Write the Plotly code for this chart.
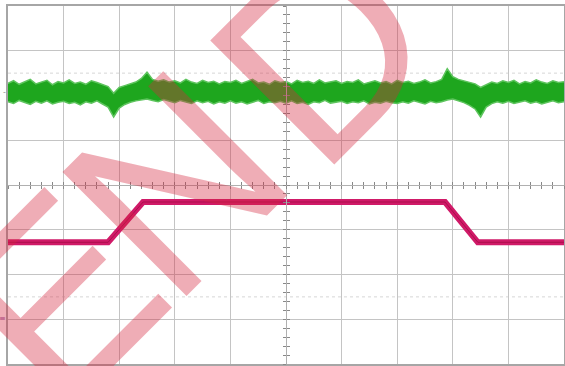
import plotly.graph_objects as go

# --- data (x in divisions, y in divisions) ---
green_x = [round(i * 0.1, 1) for i in range(101)]
green_upper = [
    2.27, 2.33, 2.25, 2.31, 2.36, 2.26, 2.30, 2.34, 2.24, 2.31,
    2.28, 2.35, 2.27, 2.30, 2.25, 2.33, 2.29, 2.24, 2.20, 2.05,
    2.18, 2.22, 2.26, 2.30, 2.38, 2.52, 2.36, 2.32, 2.35, 2.30,
    2.33, 2.28, 2.36, 2.30, 2.27, 2.34, 2.29, 2.32, 2.26, 2.31,
    2.29, 2.34, 2.27, 2.31, 2.36, 2.28, 2.30, 2.25, 2.33, 2.29,
    2.31, 2.26, 2.34, 2.29, 2.32, 2.27, 2.35, 2.28, 2.30, 2.33,
    2.27, 2.31, 2.29, 2.35, 2.26, 2.30, 2.33, 2.28, 2.31, 2.26,
    2.34, 2.29, 2.32, 2.27, 2.30, 2.35, 2.28, 2.31, 2.36, 2.60,
    2.42, 2.36, 2.33, 2.30, 2.26, 2.18, 2.24, 2.30, 2.27, 2.33,
    2.29, 2.34, 2.26, 2.31, 2.28, 2.35, 2.30, 2.27, 2.33, 2.29, 2.31,
]
green_lower = [
    1.86, 1.82, 1.89, 1.84, 1.80, 1.87, 1.83, 1.88, 1.81, 1.85,
    1.87, 1.82, 1.85, 1.79, 1.86, 1.83, 1.88, 1.81, 1.74, 1.52,
    1.72, 1.80, 1.85, 1.88, 1.90, 1.92, 1.89, 1.86, 1.91, 1.87,
    1.84, 1.89, 1.85, 1.82, 1.88, 1.84, 1.87, 1.81, 1.86, 1.83,
    1.88, 1.83, 1.86, 1.81, 1.85, 1.89, 1.82, 1.86, 1.84, 1.87,
    1.83, 1.88, 1.82, 1.85, 1.80, 1.86, 1.84, 1.89, 1.83, 1.85,
    1.87, 1.82, 1.86, 1.84, 1.88, 1.81, 1.85, 1.83, 1.87, 1.84,
    1.82, 1.86, 1.83, 1.88, 1.85, 1.81, 1.87, 1.84, 1.86, 1.90,
    1.92, 1.88, 1.84, 1.78, 1.70, 1.52, 1.74, 1.82, 1.86, 1.83,
    1.87, 1.82, 1.85, 1.88, 1.83, 1.86, 1.81, 1.85, 1.88, 1.84, 1.86,
]

magenta_x = [0.0, 1.8, 2.43, 7.86, 8.45, 10.0]
magenta_y = [-1.28, -1.28, -0.38, -0.38, -1.28, -1.28]

ref_levels = [2.5, -2.5]

# channel markers at the left edge: (label, level, colour)
marker_text = ['-', '≡']
marker_level = [2.06, -2.98]
marker_color = ['#9a9a9a', '#8a4a9a']

# watermark letters and where they sit (paper fractions)
wm_letters = ['E', 'N', 'D']
wm_x = [0.088, 0.298, 0.565]
wm_y = [0.186, 0.505, 0.873]

fig = go.Figure()

# green channel: filled noise band
fig.add_trace(go.Scatter(x=green_x, y=green_upper, mode='lines',
                         line=dict(color='#5ec45e', width=1.5), hoverinfo='skip'))
fig.add_trace(go.Scatter(x=green_x, y=green_lower, mode='lines', fill='tonexty',
                         fillcolor='#1ea61e', line=dict(color='#5ec45e', width=1.5),
                         hoverinfo='skip'))

# magenta channel
fig.add_trace(go.Scatter(x=magenta_x, y=magenta_y, mode='lines',
                         line=dict(color='#d01a68', width=6), hoverinfo='skip'))
fig.add_trace(go.Scatter(x=magenta_x, y=magenta_y, mode='lines',
                         line=dict(color='#ab0f4c', width=1), hoverinfo='skip'))

# faint dotted reference levels
for lv in ref_levels:
    fig.add_hline(y=lv, line=dict(color='#d6d6d6', width=1, dash='dot'), layer='below')

grid = dict(showgrid=True, gridcolor='#c4c4c4', gridwidth=1, zeroline=False,
            showline=True, linecolor='#a6a6a6', linewidth=1.5, mirror=True,
            showticklabels=False, ticks='', fixedrange=True)

fig.update_layout(
    width=565, height=366,
    margin=dict(l=8, r=1, t=6, b=2, autoexpand=False),
    paper_bgcolor='white', plot_bgcolor='white',
    showlegend=False,
    xaxis=dict(range=[0, 10], dtick=1, **grid),
    yaxis=dict(range=[-4, 4], dtick=1, **grid),
    # centre graticule with small tick marks
    xaxis2=dict(overlaying='x', anchor='free', position=0.5, range=[0, 10],
                showgrid=False, showticklabels=False, ticks='inside', dtick=0.2,
                ticklen=3, tickcolor='#888888', showline=True, linecolor='#b0b0b0'),
    xaxis3=dict(overlaying='x', anchor='free', position=0.5, range=[0, 10],
                showgrid=False, showticklabels=False, ticks='outside', dtick=0.2,
                ticklen=3, tickcolor='#888888'),
    yaxis2=dict(overlaying='y', anchor='free', position=0.5, range=[-4, 4],
                showgrid=False, showticklabels=False, ticks='inside', dtick=0.2,
                ticklen=3, tickcolor='#888888', showline=True, linecolor='#b0b0b0'),
    yaxis3=dict(overlaying='y', anchor='free', position=0.5, range=[-4, 4],
                showgrid=False, showticklabels=False, ticks='outside', dtick=0.2,
                ticklen=3, tickcolor='#888888'),
)
# dummy traces to make the centre axes render
fig.add_trace(go.Scatter(x=[None], y=[None], xaxis='x2', yaxis='y2'))
fig.add_trace(go.Scatter(x=[None], y=[None], xaxis='x3', yaxis='y3'))

# small channel markers left of the graticule
for t, lv, c in zip(marker_text, marker_level, marker_color):
    fig.add_annotation(text=t, xref='paper', yref='y', x=0, y=lv,
                       xanchor='right', yanchor='middle', showarrow=False,
                       font=dict(family='DejaVu Sans', size=8, color=c))

# watermark
for ch, px_, py_ in zip(wm_letters, wm_x, wm_y):
    fig.add_annotation(text=ch, xref='paper', yref='paper', x=px_, y=py_,
                       xanchor='center', yanchor='middle', showarrow=False,
                       textangle=-45,
                       font=dict(family='Liberation Sans', size=255,
                                 color='rgba(214,40,62,0.38)'))

# page has a default body margin; drop it so the figure sits at the corner
fig.write_html("out.html", config={'displayModeBar': False},
               post_script="document.body.style.margin='0';")
